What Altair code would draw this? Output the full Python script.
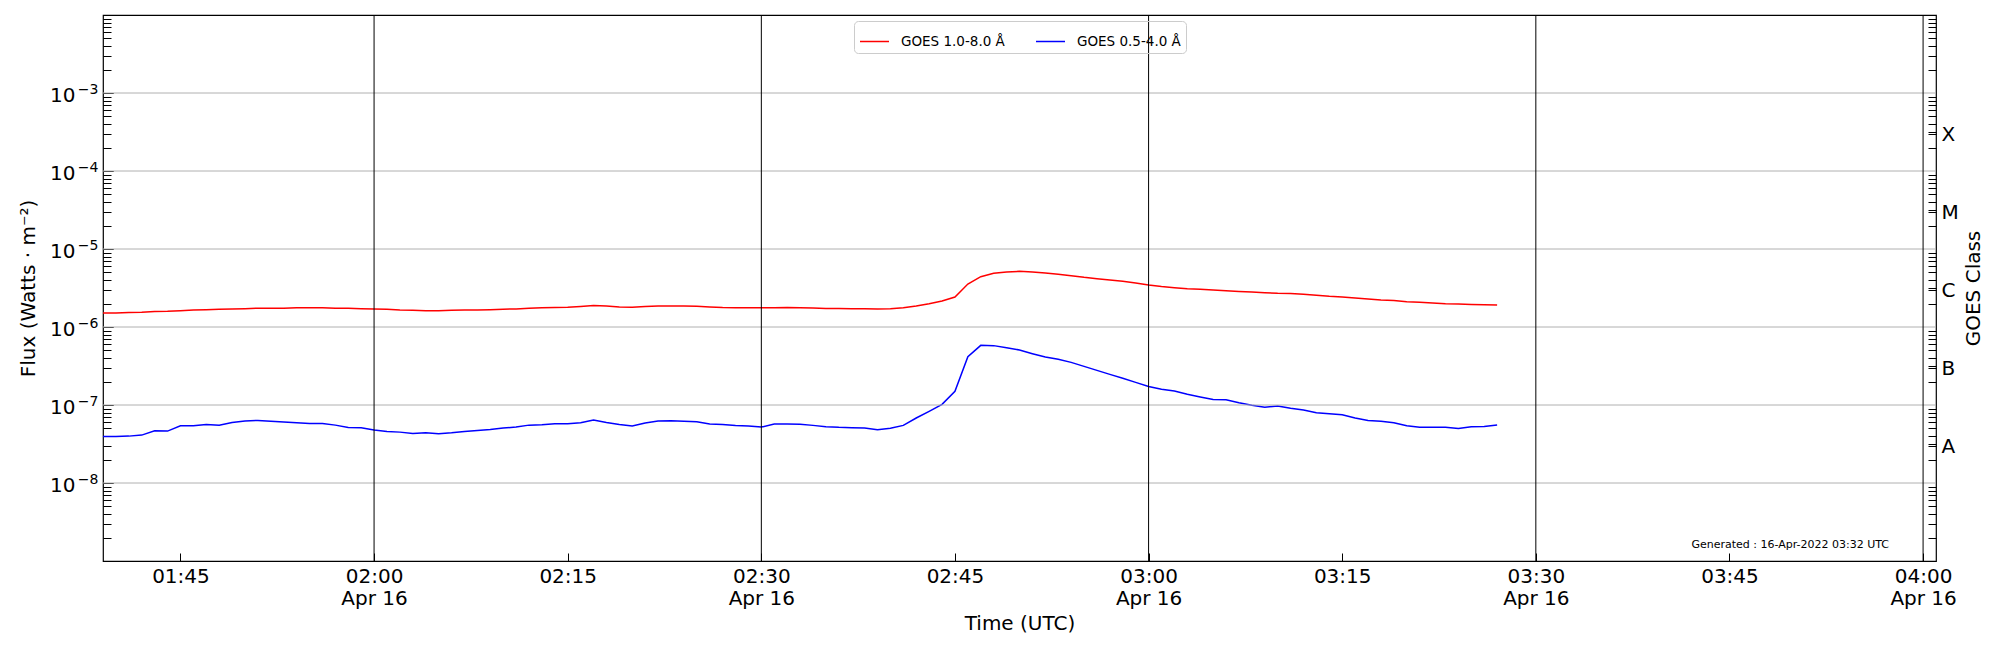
import json
import altair as alt
import pandas as pd

FONT = "DejaVu Sans"

# ---------------- data ----------------
START = "2022-04-16T01:39:00Z"          # first sample, 1-minute cadence
X_DOMAIN = ["2022-04-16T01:39:00Z", "2022-04-16T04:01:00Z"]
X_TICKS = ["2022-04-16T01:45:00Z", "2022-04-16T02:00:00Z", "2022-04-16T02:15:00Z",
           "2022-04-16T02:30:00Z", "2022-04-16T02:45:00Z", "2022-04-16T03:00:00Z",
           "2022-04-16T03:15:00Z", "2022-04-16T03:30:00Z", "2022-04-16T03:45:00Z",
           "2022-04-16T04:00:00Z"]
VLINES = ["2022-04-16T02:00:00Z", "2022-04-16T02:30:00Z", "2022-04-16T03:00:00Z",
          "2022-04-16T03:30:00Z", "2022-04-16T04:00:00Z"]

SERIES = ["GOES 1.0-8.0 Å", "GOES 0.5-4.0 Å"]
COLORS = ["#ff0000", "#0000ff"]

XRS_LONG = [
    1.51e-6, 1.51e-6, 1.53e-6, 1.545e-6, 1.575e-6, 1.59e-6, 1.62e-6, 1.655e-6, 1.67e-6, 1.69e-6,
    1.705e-6, 1.72e-6, 1.74e-6, 1.74e-6, 1.74e-6, 1.76e-6, 1.76e-6, 1.76e-6, 1.74e-6, 1.74e-6,
    1.72e-6, 1.705e-6, 1.69e-6, 1.655e-6, 1.64e-6, 1.62e-6, 1.62e-6, 1.64e-6, 1.655e-6, 1.655e-6,
    1.67e-6, 1.69e-6, 1.705e-6, 1.74e-6, 1.76e-6, 1.775e-6, 1.79e-6, 1.83e-6, 1.88e-6, 1.86e-6,
    1.81e-6, 1.79e-6, 1.83e-6, 1.86e-6, 1.86e-6, 1.86e-6, 1.84e-6, 1.81e-6, 1.775e-6, 1.76e-6,
    1.76e-6, 1.76e-6, 1.76e-6, 1.775e-6, 1.77e-6, 1.755e-6, 1.73e-6, 1.73e-6, 1.72e-6, 1.72e-6,
    1.70e-6, 1.72e-6, 1.77e-6, 1.86e-6, 1.99e-6, 2.15e-6, 2.42e-6, 3.56e-6, 4.42e-6, 4.88e-6,
    5.07e-6, 5.17e-6, 5.07e-6, 4.92e-6, 4.73e-6, 4.55e-6, 4.33e-6, 4.17e-6, 4.01e-6, 3.85e-6,
    3.66e-6, 3.45e-6, 3.30e-6, 3.19e-6, 3.10e-6, 3.04e-6, 2.98e-6, 2.92e-6, 2.86e-6, 2.81e-6,
    2.75e-6, 2.70e-6, 2.68e-6, 2.62e-6, 2.55e-6, 2.47e-6, 2.42e-6, 2.36e-6, 2.29e-6, 2.22e-6,
    2.18e-6, 2.11e-6, 2.07e-6, 2.03e-6, 1.99e-6, 1.97e-6, 1.95e-6, 1.93e-6, 1.91e-6,
]

XRS_SHORT = [
    3.95e-8, 3.95e-8, 3.99e-8, 4.11e-8, 4.68e-8, 4.63e-8, 5.42e-8, 5.42e-8, 5.64e-8, 5.52e-8,
    5.98e-8, 6.22e-8, 6.35e-8, 6.17e-8, 6.04e-8, 5.93e-8, 5.81e-8, 5.81e-8, 5.52e-8, 5.15e-8,
    5.10e-8, 4.77e-8, 4.58e-8, 4.49e-8, 4.31e-8, 4.40e-8, 4.28e-8, 4.40e-8, 4.58e-8, 4.72e-8,
    4.86e-8, 5.06e-8, 5.21e-8, 5.52e-8, 5.58e-8, 5.75e-8, 5.75e-8, 5.93e-8, 6.41e-8, 5.98e-8,
    5.64e-8, 5.37e-8, 5.87e-8, 6.22e-8, 6.28e-8, 6.17e-8, 6.10e-8, 5.69e-8, 5.64e-8, 5.47e-8,
    5.37e-8, 5.21e-8, 5.69e-8, 5.69e-8, 5.67e-8, 5.48e-8, 5.27e-8, 5.17e-8, 5.12e-8, 5.07e-8,
    4.83e-8, 5.02e-8, 5.48e-8, 6.81e-8, 8.29e-8, 1.02e-7, 1.50e-7, 4.17e-7, 5.82e-7, 5.77e-7,
    5.43e-7, 5.07e-7, 4.55e-7, 4.12e-7, 3.85e-7, 3.52e-7, 3.13e-7, 2.78e-7, 2.47e-7, 2.20e-7,
    1.95e-7, 1.73e-7, 1.59e-7, 1.51e-7, 1.37e-7, 1.27e-7, 1.18e-7, 1.17e-7, 1.07e-7, 9.90e-8,
    9.33e-8, 9.71e-8, 9.06e-8, 8.63e-8, 7.98e-8, 7.74e-8, 7.52e-8, 6.81e-8, 6.35e-8, 6.17e-8,
    5.94e-8, 5.43e-8, 5.17e-8, 5.17e-8, 5.17e-8, 4.98e-8, 5.27e-8, 5.32e-8, 5.54e-8,
]

Y_DOMAIN = [1e-9, 1e-2]
DECADES = [1e-8, 1e-7, 1e-6, 1e-5, 1e-4, 1e-3]
DECADE_BASE = "10"
DECADE_EXPONENTS = ["−8", "−7", "−6", "−5", "−4", "−3"]
MINOR_BASES = [1e-9, 1e-8, 1e-7, 1e-6, 1e-5, 1e-4, 1e-3]
MINOR_MULT = [2, 3, 4, 5, 6, 7, 8, 9]
CLASS_CENTERS = [3.1623e-8, 3.1623e-7, 3.1623e-6, 3.1623e-5, 3.1623e-4]
CLASS_LABELS = ["A", "B", "C", "M", "X"]
GENERATED = "Generated : 16-Apr-2022 03:32 UTC"

# ---------------- tables ----------------
def ms(s):
    return int(pd.Timestamp(s).value // 10**6)

times = pd.date_range(START, periods=len(XRS_LONG), freq="min")
tstr = [t.strftime("%Y-%m-%dT%H:%M:%SZ") for t in times]
lines_df = pd.concat([
    pd.DataFrame({"time": tstr, "flux": XRS_LONG, "series": SERIES[0]}),
    pd.DataFrame({"time": tstr, "flux": XRS_SHORT, "series": SERIES[1]}),
])
minor_ticks = [m * b for b in MINOR_BASES for m in MINOR_MULT]

W, H = 1833, 546

x_scale = alt.Scale(type="utc", domain=[ms(X_DOMAIN[0]), ms(X_DOMAIN[1])])
y_scale = alt.Scale(type="log", domain=Y_DOMAIN, nice=False)

exp_expr = f"{json.dumps(DECADE_EXPONENTS, ensure_ascii=False)}[round(log(datum.value)/LN10) + 8]"
right_expr = (
    "abs(log(datum.value)/LN10 + 7.5 - round(log(datum.value)/LN10 + 7.5)) < 0.002 ? "
    f"{json.dumps(CLASS_LABELS)}[round(log(datum.value)/LN10 + 7.5)] : ''"
)
x_expr = ("utcminutes(datum.value) % 30 == 0 ? "
          "[utcFormat(datum.value, '%H:%M'), utcFormat(datum.value, '%b %d')] : "
          "utcFormat(datum.value, '%H:%M')")

x_axis = alt.Axis(values=[ms(t) for t in X_TICKS], labelExpr=x_expr, grid=False, domain=False,
                  tickSize=8, offset=-8, tickColor="black", labelFontSize=20, labelPadding=5,
                  labelLineHeight=22.5, labelFlush=False, labelOverlap=False, labelBaseline="top",
                  title="Time (UTC)", titleFontSize=20, titlePadding=5)

lines = alt.Chart(lines_df).mark_line(strokeWidth=1.5).encode(
    x=alt.X("time:T", scale=x_scale, axis=x_axis),
    y=alt.Y("flux:Q", scale=y_scale,
            axis=alt.Axis(orient="left", values=DECADES, labelExpr=f"'{DECADE_BASE}'", grid=False,
                          domain=False, tickSize=10, offset=-10, tickColor="black", labelFontSize=20,
                          labelPadding=28, labelOffset=2.5, title="Flux (Watts · m⁻²)",
                          titleFontSize=20, titlePadding=11)),
    color=alt.Color("series:N", scale=alt.Scale(domain=SERIES, range=COLORS),
                    legend=alt.Legend(orient="none", legendX=751, legendY=6, direction="horizontal",
                                      title=None, symbolType="stroke", symbolSize=841,
                                      symbolStrokeWidth=1.5, labelFontSize=13.5, labelOffset=11,
                                      columnPadding=28, padding=5, strokeColor="#cccccc",
                                      cornerRadius=4)),
    detail="series:N",
)

expo = alt.Chart(pd.DataFrame({"flux": DECADES})).mark_point(opacity=0).encode(
    y=alt.Y("flux:Q", scale=y_scale,
            axis=alt.Axis(orient="left", values=DECADES, labelExpr=exp_expr, grid=False, domain=False,
                          tickSize=10, offset=-10, tickColor="black", labelFontSize=14,
                          labelPadding=5, labelOffset=-3.5, title=None))
)

grid = alt.Chart(pd.DataFrame({"flux": DECADES})).mark_rule(color="#b0b0b0", strokeWidth=1).encode(
    y=alt.Y("flux:Q", scale=y_scale,
            axis=alt.Axis(orient="left", values=minor_ticks, labels=False, grid=False, domain=False,
                          tickSize=8, offset=-8, tickColor="black", title=None))
)

vlines = alt.Chart(pd.DataFrame({"time": VLINES})).mark_rule(color="black", strokeWidth=1).encode(
    x=alt.X("time:T", scale=x_scale, axis=x_axis)
)

classes = alt.Chart(pd.DataFrame({"flux": CLASS_CENTERS, "cls": CLASS_LABELS})).mark_point(opacity=0).encode(
    y=alt.Y("flux:Q", scale=y_scale,
            axis=alt.Axis(orient="right", values=CLASS_CENTERS + minor_ticks, labelExpr=right_expr,
                          grid=False, domain=False, tickSize=8, offset=-8, tickColor="black",
                          labelFontSize=20, labelPadding=5, labelOffset=3, labelAlign="left",
                          title="GOES Class", titleFontSize=20, titleAngle=270, titleBaseline="top",
                          titlePadding=5))
)

note = alt.Chart(pd.DataFrame({"text": [GENERATED]})).mark_text(
    align="right", baseline="middle", fontSize=11, font=FONT, color="black"
).encode(x=alt.value(1786), y=alt.value(530), text="text:N")

chart = alt.layer(lines, expo, grid, vlines, classes, note).resolve_scale(y="shared").resolve_axis(
    y="independent"
).properties(
    width=W, height=H,
    autosize=alt.AutoSizeParams(type="none"),
    padding={"left": 95, "top": 7, "right": 52, "bottom": 75},
).configure_view(stroke="black", strokeWidth=1.2).configure_axis(
    labelFont=FONT, titleFont=FONT, labelColor="black", titleColor="black",
    titleFontWeight="normal", tickWidth=1
).configure_legend(labelFont=FONT, labelColor="black")

chart.save("out.html", embed_options={"renderer": "svg", "actions": False})
